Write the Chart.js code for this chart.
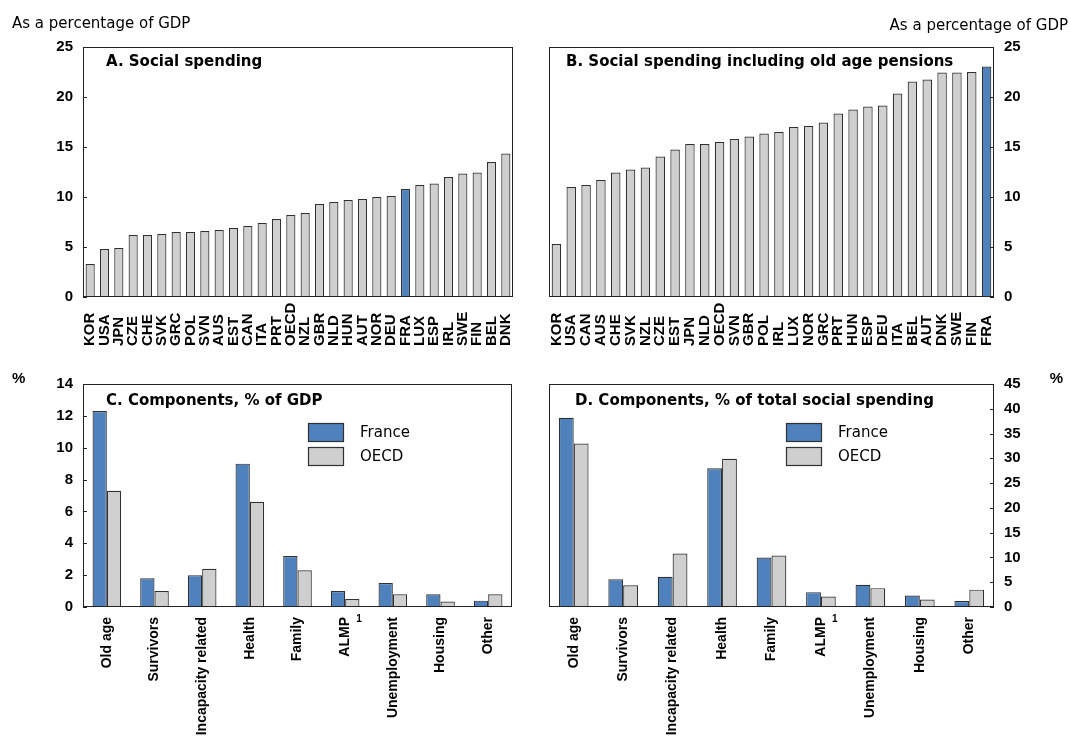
<!DOCTYPE html>
<html>
<head>
<meta charset="utf-8">
<title>Social spending</title>
<script src="https://cdn.jsdelivr.net/npm/chart.js@4.4.0/dist/chart.umd.min.js"></script>
<style>
  body { margin: 0; background: #fff; }
  #wrap { position: relative; width: 1070px; height: 736px; overflow: hidden; }
  canvas { position: absolute; }
</style>
</head>
<body>
<div id="wrap">
  <canvas id="chart-a" width="530" height="365" style="left:0;top:0"></canvas>
  <canvas id="chart-b" width="540" height="365" style="left:530px;top:0"></canvas>
  <canvas id="chart-c" width="530" height="371" style="left:0;top:365px"></canvas>
  <canvas id="chart-d" width="540" height="371" style="left:530px;top:365px"></canvas>
</div>
<script>
'use strict';

// *********** DATA ****************

let countriesA = ['KOR','USA','JPN','CZE','CHE','SVK','GRC','POL','SVN','AUS','EST','CAN','ITA','PRT','OECD','NZL','GBR','NLD','HUN','AUT','NOR','DEU','FRA','LUX','ESP','IRL','SWE','FIN','BEL','DNK'];
let spendingA = [3.3,4.8,4.9,6.2,6.2,6.3,6.5,6.5,6.6,6.7,6.9,7.1,7.4,7.8,8.2,8.4,9.3,9.5,9.7,9.8,10.0,10.1,10.8,11.2,11.35,12.0,12.35,12.45,13.5,14.35];

let countriesB = ['KOR','USA','CAN','AUS','CHE','SVK','NZL','CZE','EST','JPN','NLD','OECD','SVN','GBR','POL','IRL','LUX','NOR','GRC','PRT','HUN','ESP','DEU','ITA','BEL','AUT','DNK','SWE','FIN','FRA'];
let spendingB = [5.3,11.0,11.2,11.7,12.45,12.75,12.95,14.05,14.75,15.3,15.3,15.5,15.8,16.05,16.35,16.5,17.0,17.1,17.45,18.35,18.75,19.05,19.15,20.35,21.55,21.75,22.45,22.45,22.5,23.05];

let components = ['Old age','Survivors','Incapacity related','Health','Family','ALMP','Unemployment','Housing','Other'];
let franceGdp = [12.3,1.8,2.0,9.0,3.2,1.0,1.5,0.8,0.4];
let oecdGdp = [7.3,1.0,2.4,6.6,2.3,0.5,0.8,0.35,0.8];
let franceShare = [38.2,5.6,6.1,28.0,10.0,3.0,4.5,2.3,1.2];
let oecdShare = [33.0,4.4,10.8,29.9,10.4,2.1,3.8,1.5,3.5];

let ticksA = [0,5,10,15,20,25];
let ticksB = [0,5,10,15,20,25];
let ticksC = [0,2,4,6,8,10,12,14];
let ticksD = [0,5,10,15,20,25,30,35,40,45];

// *********** STYLE ****************

const BLUE = '#4f81bd';
const GREY = '#cfcfcf';
const EDGE = '#303030';
const TICK_FONT = {family: 'Liberation Sans', size: 15, weight: 'bold'};

Chart.defaults.font.family = 'Liberation Sans';
Chart.defaults.color = '#000';
Chart.defaults.animation = false;

// ********** PLUGIN: frame, inward ticks, titles, legend, notes ********

let panelDecor = {
  id: 'panelDecor',
  afterDraw(chart, args, opts) {
    let ctx = chart.ctx;
    let ca = chart.chartArea;
    let yScale = chart.scales.y;
    let xScale = chart.scales.x;
    ctx.save();

    // frame
    ctx.strokeStyle = '#222';
    ctx.lineWidth = 1;
    ctx.strokeRect(ca.left + 0.5, ca.top + 0.5, ca.right - ca.left - 1, ca.bottom - ca.top - 1);

    // small ticks pointing into the plot
    ctx.beginPath();
    yScale.ticks.forEach(t => {
      let py = Math.round(yScale.getPixelForValue(t.value)) + 0.5;
      if (opts.side === 'right') {
        ctx.moveTo(ca.right, py);
        ctx.lineTo(ca.right - 4, py);
      } else {
        ctx.moveTo(ca.left, py);
        ctx.lineTo(ca.left + 4, py);
      }
    });
    ctx.stroke();

    // panel title
    ctx.fillStyle = '#000';
    ctx.font = 'bold 15px "DejaVu Sans"';
    ctx.textAlign = 'left';
    ctx.textBaseline = 'alphabetic';
    ctx.fillText(opts.title, ca.left + opts.titleDx, ca.top + opts.titleDy);

    // loose notes (unit labels)
    opts.notes.forEach(n => {
      ctx.font = n.font;
      ctx.textAlign = n.align;
      ctx.fillText(n.text, n.x, n.y);
    });

    // category labels that start at a common baseline (panels A and B)
    if (opts.baseLabels) {
      ctx.font = 'bold 15px "Liberation Sans"';
      ctx.textAlign = 'left';
      ctx.textBaseline = 'middle';
      chart.data.labels.forEach((lab, i) => {
        ctx.save();
        ctx.translate(xScale.getPixelForTick(i), opts.baseLabels);
        ctx.rotate(-Math.PI / 2);
        ctx.fillText(lab, 0, 0);
        ctx.restore();
      });
    }

    // footnote mark
    if (opts.mark) {
      ctx.font = 'bold 10px "Liberation Sans"';
      ctx.textAlign = 'left';
      ctx.textBaseline = 'alphabetic';
      ctx.fillText(opts.mark.text, xScale.getPixelForTick(opts.mark.index) + 11, ca.bottom + 15);
    }

    // legend inside the plot
    if (opts.legend) {
      let lx = ca.left + opts.legend.dx;
      let ly = ca.top + opts.legend.dy;
      chart.data.datasets.forEach((ds, i) => {
        let by = ly + i * 24;
        ctx.fillStyle = ds.backgroundColor;
        ctx.fillRect(lx, by, 36, 19);
        ctx.strokeStyle = EDGE;
        ctx.lineWidth = 1.2;
        ctx.strokeRect(lx + 0.5, by + 0.5, 35, 18);
        ctx.fillStyle = '#000';
        ctx.font = '15px "DejaVu Sans"';
        ctx.textAlign = 'left';
        ctx.textBaseline = 'middle';
        ctx.fillText(ds.label, lx + 52, by + 10);
      });
    }
    ctx.restore();
  }
};

// ********** HELPERS ********

function yAxis(tickList, side, width) {
  return {
    position: side,
    min: tickList[0],
    max: tickList[tickList.length - 1],
    afterBuildTicks: s => { s.ticks = tickList.map(v => ({value: v})); },
    afterFit: s => { s.width = width; },
    grid: {display: false, drawTicks: false},
    border: {display: false},
    ticks: {font: TICK_FONT, color: '#000', padding: 10}
  };
}

function countryChart(id, labels, values, tickList, side, decor) {
  let ctx = document.getElementById(id).getContext('2d');
  return new Chart(ctx, {
    type: 'bar',
    data: {
      labels: labels,
      datasets: [{
        data: values,
        backgroundColor: labels.map(c => c === 'FRA' ? BLUE : GREY),
        borderColor: EDGE,
        borderWidth: 1.2,
        barPercentage: 0.64,
        categoryPercentage: 1
      }]
    },
    options: {
      responsive: false,
      layout: {padding: side === 'left' ? {left: 0, right: 17, top: 47, bottom: 0} : {left: 19, right: 0, top: 47, bottom: 0}},
      scales: {
        x: {
          ticks: {display: false},
          grid: {display: false},
          border: {display: false},
          afterFit: s => { s.height = 68; }
        },
        y: yAxis(tickList, side, side === 'left' ? 83 : 76)
      },
      plugins: {legend: {display: false}, tooltip: {enabled: false}, panelDecor: decor}
    },
    plugins: [panelDecor]
  });
}

function componentChart(id, franceVals, oecdVals, tickList, side, decor) {
  let ctx = document.getElementById(id).getContext('2d');
  return new Chart(ctx, {
    type: 'bar',
    data: {
      labels: components,
      datasets: [
        {label: 'France', data: franceVals, backgroundColor: BLUE, borderColor: EDGE, borderWidth: 1.2, barPercentage: 1, categoryPercentage: 0.6},
        {label: 'OECD', data: oecdVals, backgroundColor: GREY, borderColor: EDGE, borderWidth: 1.2, barPercentage: 1, categoryPercentage: 0.6}
      ]
    },
    options: {
      responsive: false,
      layout: {padding: side === 'left' ? {left: 0, right: 18, top: 18, bottom: 0} : {left: 19, right: 0, top: 18, bottom: 0}},
      scales: {
        x: {
          ticks: {font: {family: 'Liberation Sans', size: 14, weight: 'bold'}, color: '#000', maxRotation: 90, minRotation: 90, autoSkip: false, padding: 10},
          grid: {display: false, drawTicks: false},
          border: {display: false},
          afterFit: s => { s.height = 129; }
        },
        y: yAxis(tickList, side, side === 'left' ? 83 : 76)
      },
      plugins: {legend: {display: false}, tooltip: {enabled: false}, panelDecor: decor}
    },
    plugins: [panelDecor]
  });
}

// ********** RENDER ********

countryChart('chart-a', countriesA, spendingA, ticksA, 'left', {
  side: 'left', title: 'A. Social spending', titleDx: 23, titleDy: 19,
  baseLabels: 346,
  notes: [{text: 'As a percentage of GDP', x: 12, y: 28, align: 'left', font: '15px "DejaVu Sans"'}]
});

countryChart('chart-b', countriesB, spendingB, ticksB, 'right', {
  side: 'right', title: 'B. Social spending including old age pensions', titleDx: 17, titleDy: 19,
  baseLabels: 346,
  notes: [{text: 'As a percentage of GDP', x: 538, y: 30, align: 'right', font: '15px "DejaVu Sans"'}]
});

componentChart('chart-c', franceGdp, oecdGdp, ticksC, 'left', {
  side: 'left', title: 'C. Components, % of GDP', titleDx: 23, titleDy: 21,
  legend: {dx: 225, dy: 39},
  mark: {index: 5, text: '1'},
  notes: [{text: '%', x: 12, y: 18, align: 'left', font: 'bold 15px "Liberation Sans"'}]
});

componentChart('chart-d', franceShare, oecdShare, ticksD, 'right', {
  side: 'right', title: 'D. Components, % of total social spending', titleDx: 26, titleDy: 21,
  legend: {dx: 237, dy: 39},
  mark: {index: 5, text: '1'},
  notes: [{text: '%', x: 533, y: 18, align: 'right', font: 'bold 15px "Liberation Sans"'}]
});
</script>
</body>
</html>
